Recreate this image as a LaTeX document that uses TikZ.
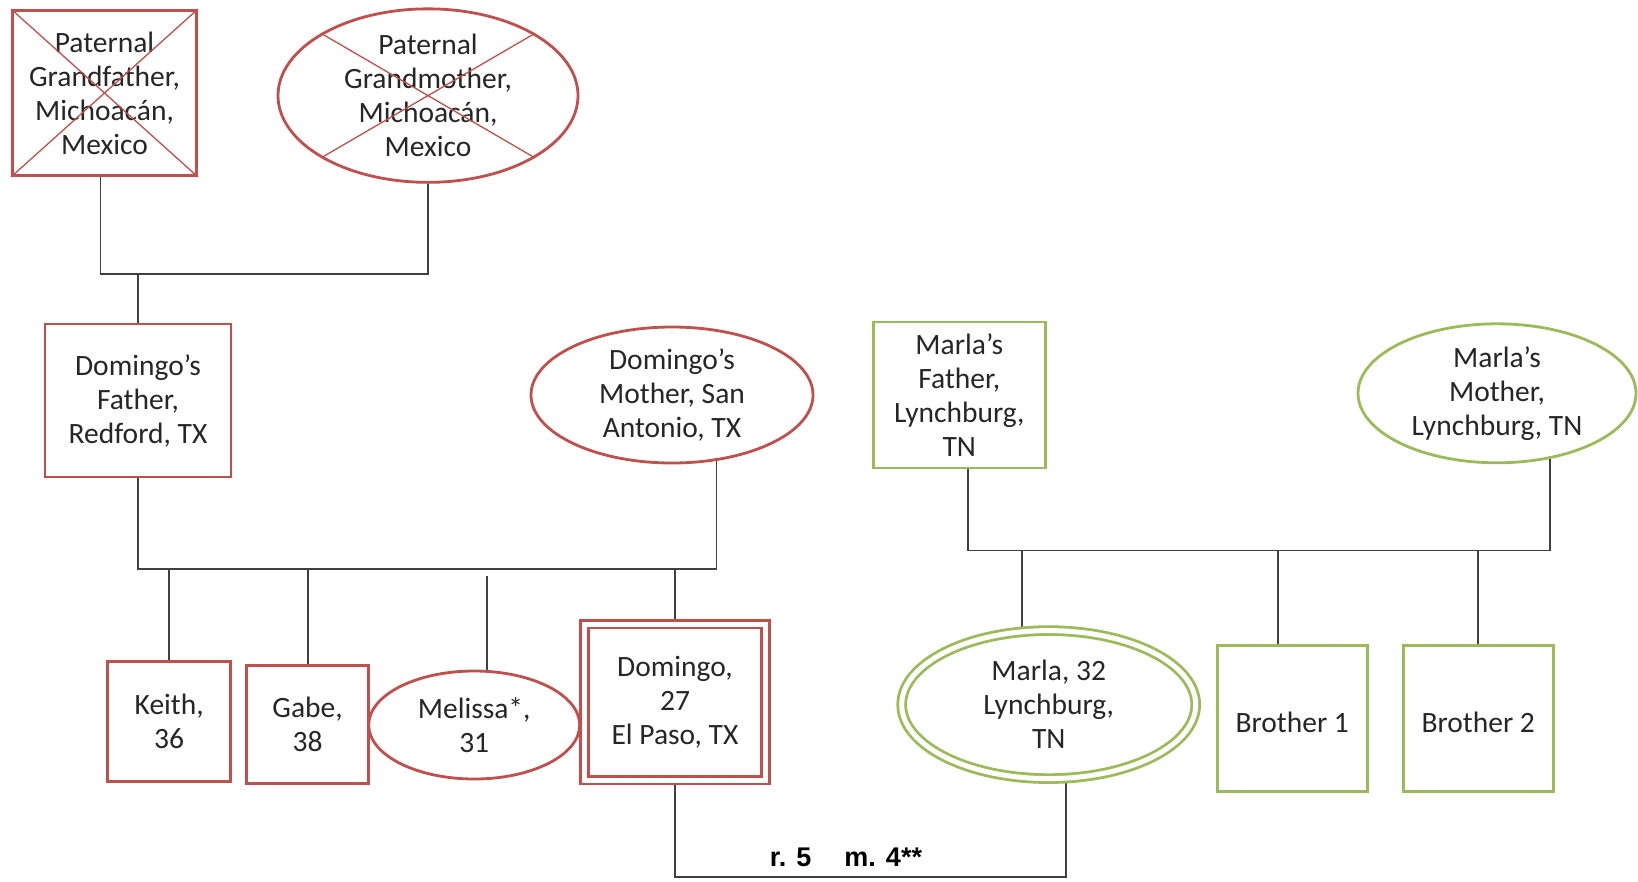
\documentclass[tikz,border=0pt]{standalone}
\usepackage{fontspec}
\setmainfont{Carlito}
\newfontfamily\labelfont{Liberation Sans}
\usetikzlibrary{shapes.geometric,backgrounds}

\definecolor{famred}{HTML}{C0504D}
\definecolor{famgreen}{HTML}{9BBB59}
\definecolor{linkgray}{HTML}{404040}
\definecolor{inkdark}{HTML}{262626}

\tikzset{
  person/.style={draw, line width=2.8pt, fill=white, inner sep=0pt, align=center,
    text=inkdark, font=\fontsize{29.5}{34}\selectfont,
    execute at begin node={\rule{0pt}{28pt}}},
  male/.style={person, rectangle},
  female/.style={person, ellipse},
  redside/.style={draw=famred},
  greenside/.style={draw=famgreen},
  indexperson/.style={double=white, double distance=5pt, line width=2.8pt},
  link/.style={draw=linkgray, line width=1.8pt},
  deceased/.style={draw=famred, line width=1.3pt},
  relabel/.style={font=\labelfont\bfseries\fontsize{27}{32}\selectfont, text=black, inner sep=0pt},
}

\begin{document}
\begin{tikzpicture}[x=1pt, y=-1pt]
\useasboundingbox (0,0) rectangle (1638,881);

% grandparents
\node[male, redside, minimum width=184pt, minimum height=165pt] (gf) at (104.5,93)
  {Paternal\\Grandfather,\\Michoacán,\\Mexico};
\node[female, redside, minimum width=300pt, minimum height=160pt] (gm) at (428,95.6)
  {Paternal\\Grandmother,\\Michoacán,\\Mexico};

% Domingo's parents
\node[male, redside, minimum width=186pt, minimum height=153pt] (df) at (138,400.5)
  {Domingo's\\Father,\\Redford, TX};
\node[female, redside, minimum width=282pt, minimum height=136pt] (dm) at (672,395)
  {Domingo's\\Mother, San\\Antonio, TX};

% Domingo and his siblings
\node[male, redside, minimum width=123pt, minimum height=120pt] (keith) at (169.2,721.2)
  {Keith,\\36};
\node[male, redside, minimum width=122pt, minimum height=118pt] (gabe) at (307.6,724.5)
  {Gabe,\\38};
\node[female, redside, minimum width=211pt, minimum height=108pt] (mel) at (474.2,725)
  {Melissa*,\\31};
\node[male, redside, indexperson, minimum width=181pt, minimum height=156pt] (dom) at (675,702)
  {Domingo,\\27\\El Paso, TX};

% Marla's parents
\node[male, greenside, minimum width=172pt, minimum height=146pt] (mf) at (959.3,394.9)
  {Marla's\\Father,\\Lynchburg,\\TN};
\node[female, greenside, minimum width=278pt, minimum height=139pt] (mm) at (1497,393.3)
  {Marla's\\Mother,\\Lynchburg, TN};

% Marla and her brothers
\node[female, greenside, indexperson, minimum width=294pt, minimum height=148pt] (marla) at (1048.7,704.6)
  {Marla, 32\\Lynchburg,\\TN};
\node[male, greenside, minimum width=150pt, minimum height=146pt] (b1) at (1292.2,718.7)
  {Brother 1};
\node[male, greenside, minimum width=150pt, minimum height=146pt] (b2) at (1478.2,718.7)
  {Brother 2};

% deceased marks
\draw[deceased] (gf.north west) -- (gf.south east) (gf.north east) -- (gf.south west);
\draw[deceased] (gm.north west) -- (gm.south east) (gm.north east) -- (gm.south west);

% relationship label
\node[relabel, anchor=base] (lbl) at (846,866) {r. 5\hspace{33pt}m. 4**};

\begin{scope}[on background layer]
  \fill[white] (0,0) rectangle (1638,881);

  % grandparents' couple line
  \coordinate (gpj) at (136,274);
  \coordinate (gftop) at ([xshift=-4pt]gf.south);
  \draw[link] (gftop) -- (gftop |- gpj) -- (gm.south |- gpj) -- (gm.south);
  \draw[link] (df.north) -- (df.north |- gpj);

  % Domingo's parents and their children
  \coordinate (dj) at (136,569);
  \coordinate (melgap) at (0,576);
  \draw[link] (df.south) |- (dm.-56 |- dj) -- (dm.-56);
  \draw[link] (keith.north) -- (keith.north |- dj);
  \draw[link] (gabe.north) -- (gabe.north |- dj);
  \draw[link] (mel.77) -- (mel.77 |- melgap);
  \draw[link] (dom.north) -- (dom.north |- dj);

  % Marla's parents and their children
  \coordinate (mj) at (968,550.5);
  \coordinate (mfbot) at ([xshift=9pt]mf.south);
  \coordinate (b1top) at ([xshift=-14.6pt]b1.north);
  \draw[link] (mfbot) |- (mm.-51 |- mj) -- (mm.-51);
  \draw[link] (marla.110) -- (marla.110 |- mj);
  \draw[link] (b1top) -- (b1top |- mj);
  \draw[link] (b2.north) -- (b2.north |- mj);

  % couple line between Domingo and Marla
  \coordinate (mar) at (0,877);
  \draw[link] (dom.south) |- (marla.-77 |- mar) -- (marla.-77);
\end{scope}
\end{tikzpicture}
\end{document}
